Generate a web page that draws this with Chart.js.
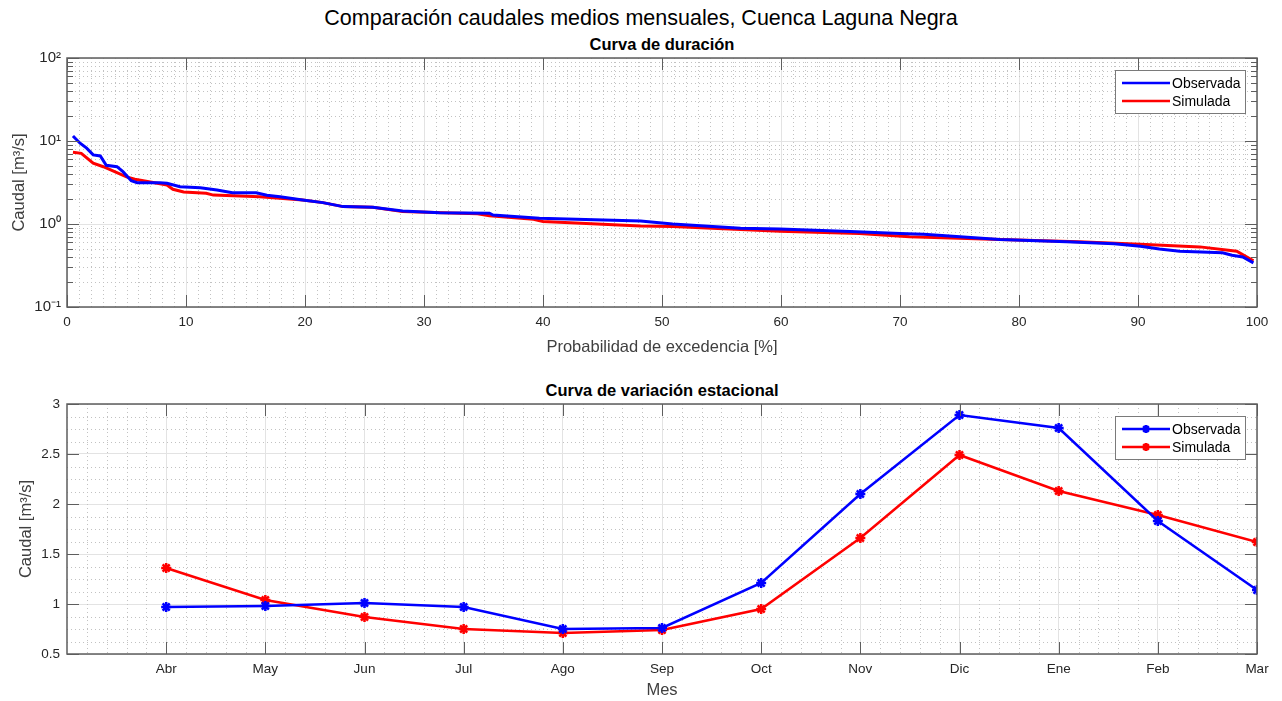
<!DOCTYPE html>
<html>
<head>
<meta charset="utf-8">
<script src="https://cdn.jsdelivr.net/npm/chart.js@4/dist/chart.umd.min.js"></script>
<style>
  body { margin: 0; background: #fff; width: 1282px; height: 701px; position: relative; overflow: hidden; font-family: 'Liberation Sans', Arial, sans-serif; }
  canvas { position: absolute; left: 0; }
  .ttl { position: absolute; white-space: nowrap; transform: translate(-50%, -50%); color: #000; }
  #main { left: 641px; top: 18px; font-size: 21.5px; }
  .sub { left: 662px; font-size: 16.5px; font-weight: bold; }
</style>
</head>
<body>
<div id="main" class="ttl">Comparación caudales medios mensuales, Cuenca Laguna Negra</div>
<div class="ttl sub" style="top:44px">Curva de duración</div>
<div class="ttl sub" style="top:390px">Curva de variación estacional</div>
<canvas id="chartDuracion" width="1282" height="370" style="top:0"></canvas>
<canvas id="chartEstacional" width="1282" height="331" style="top:370px"></canvas>
<script>
// curva de duracion (probabilidad de excedencia %, caudal m3/s)
const probObs = [0.5, 1.1, 1.65, 2.2, 2.8, 3.3, 4.2, 4.7, 5.4, 5.9, 7.8, 8.4, 9.5, 11.2, 12.6, 13.9, 15.9, 16.8, 17.9, 19.8, 21.5, 23.2, 25.7, 28.2, 31.3, 35.5, 35.8, 39.7, 48.2, 50.9, 56.6, 59.9, 65.8, 70, 72, 78.4, 84, 88, 90.2, 91.8, 93.5, 97.1, 97.9, 98.8, 99.7]
const qObs = [11.5, 9.4, 8.2, 6.8, 6.6, 5.1, 4.9, 4.27, 3.32, 3.15, 3.15, 3.1, 2.81, 2.74, 2.57, 2.38, 2.38, 2.22, 2.13, 1.95, 1.81, 1.62, 1.59, 1.43, 1.37, 1.35, 1.28, 1.17, 1.09, 1.0, 0.89, 0.87, 0.81, 0.77, 0.75, 0.65, 0.61, 0.58, 0.54, 0.50, 0.47, 0.45, 0.42, 0.40, 0.34]
const probSim = [0.5, 1.2, 2.2, 3.05, 5.0, 5.7, 8.4, 8.9, 9.8, 11.7, 12.3, 16.2, 19.8, 21.5, 23.2, 25.7, 28.2, 33, 34.5, 35.5, 39.2, 40, 48.2, 50.9, 56.6, 59.9, 66.6, 70.8, 78.4, 85, 90.2, 95.2, 98.3, 99.7]
const qSim = [7.3, 7.1, 5.4, 4.9, 3.7, 3.46, 2.95, 2.62, 2.43, 2.34, 2.23, 2.13, 1.95, 1.81, 1.62, 1.59, 1.41, 1.35, 1.33, 1.26, 1.14, 1.07, 0.945, 0.93, 0.86, 0.82, 0.77, 0.70, 0.65, 0.61, 0.57, 0.53, 0.47, 0.36]
const logTicks = [0.1, 1, 10, 100]
const logLabels = ['10⁻¹', '10⁰', '10¹', '10²']

// curva de variacion estacional
const meses = ['Abr', 'May', 'Jun', 'Jul', 'Ago', 'Sep', 'Oct', 'Nov', 'Dic', 'Ene', 'Feb', 'Mar']
const mesObs = [0.97, 0.98, 1.01, 0.97, 0.75, 0.76, 1.21, 2.10, 2.89, 2.76, 1.83, 1.14]
const mesSim = [1.36, 1.04, 0.87, 0.75, 0.71, 0.74, 0.95, 1.66, 2.49, 2.13, 1.89, 1.62]

Chart.defaults.font.family = "'Liberation Sans', Arial, sans-serif"
Chart.defaults.color = '#262626'
Chart.defaults.animation = false

const axisColor = '#5e5e5e'
const gridColor = '#e3e3e3'
const minorColor = '#c2c2c2'
const tickFont = { size: 13.5 }
const titleFont = { size: 16.5 }

const range = (a, b, step) => {
  const out = []
  const n = Math.round((b - a) / step)
  for (let i = 0; i <= n; i++) out.push(+(a + i * step).toFixed(6))
  return out
}

// grid menor punteado, caja, marcas hacia adentro y leyenda estilo matlab
const matlabAxes = (o) => ({
  id: 'matlabAxes',
  beforeDatasetsDraw(chart) {
    const { ctx, chartArea: a, scales: { x, y } } = chart
    ctx.save()
    ctx.strokeStyle = minorColor
    ctx.lineWidth = 1
    ctx.setLineDash([1, 3])
    ctx.beginPath()
    o.xMinor.forEach(v => {
      const px = Math.round(x.getPixelForValue(v)) + 0.5
      ctx.moveTo(px, a.top); ctx.lineTo(px, a.bottom)
    })
    o.yMinor.forEach(v => {
      const py = Math.round(y.getPixelForValue(v)) + 0.5
      ctx.moveTo(a.left, py); ctx.lineTo(a.right, py)
    })
    ctx.stroke()
    ctx.restore()
  },
  afterDatasetsDraw(chart) {
    const { ctx, chartArea: a, scales: { x, y } } = chart
    ctx.save()
    ctx.strokeStyle = axisColor
    ctx.lineWidth = 1
    ctx.beginPath()
    const tick = (vals, len, horiz) => vals.forEach(v => {
      if (horiz) {
        const px = Math.round(x.getPixelForValue(v)) + 0.5
        ctx.moveTo(px, a.bottom); ctx.lineTo(px, a.bottom - len)
        ctx.moveTo(px, a.top); ctx.lineTo(px, a.top + len)
      } else {
        const py = Math.round(y.getPixelForValue(v)) + 0.5
        ctx.moveTo(a.left, py); ctx.lineTo(a.left + len, py)
        ctx.moveTo(a.right, py); ctx.lineTo(a.right - len, py)
      }
    })
    tick(o.xMajor, 12, true)
    tick(o.yMajor, 12, false)
    if (o.yMinorTicks) tick(o.yMinor, 6, false)
    ctx.stroke()
    ctx.lineWidth = 1.5
    ctx.strokeRect(a.left, a.top, a.right - a.left, a.bottom - a.top)
    ctx.restore()

    // leyenda
    const bx = a.right - 142, by = a.top + 12, bw = 130, bh = 43
    ctx.save()
    ctx.fillStyle = '#fff'
    ctx.fillRect(bx, by, bw, bh)
    ctx.strokeStyle = '#7a7a7a'
    ctx.lineWidth = 1
    ctx.strokeRect(bx + 0.5, by + 0.5, bw, bh)
    ctx.font = "14px 'Liberation Sans', Arial, sans-serif"
    ctx.textBaseline = 'middle'
    chart.data.datasets.forEach((ds, i) => {
      const ly = by + 13 + i * 18
      ctx.strokeStyle = ds.borderColor
      ctx.lineWidth = 2.5
      ctx.beginPath()
      ctx.moveTo(bx + 7, ly); ctx.lineTo(bx + 55, ly)
      if (o.marker) {
        const cx = bx + 31, r = 4
        ctx.moveTo(cx - r, ly); ctx.lineTo(cx + r, ly)
        ctx.moveTo(cx, ly - r); ctx.lineTo(cx, ly + r)
        ctx.moveTo(cx - r * 0.7, ly - r * 0.7); ctx.lineTo(cx + r * 0.7, ly + r * 0.7)
        ctx.moveTo(cx - r * 0.7, ly + r * 0.7); ctx.lineTo(cx + r * 0.7, ly - r * 0.7)
      }
      ctx.stroke()
      ctx.fillStyle = '#000'
      ctx.fillText(ds.label, bx + 57, ly + 1)
    })
    ctx.restore()
  }
})

const toPoints = (xs, ys) => xs.map((v, i) => ({ x: v, y: ys[i] }))

// --- curva de duracion
const durMinorY = []
;[0.1, 1, 10].forEach(d => { for (let k = 2; k <= 9; k++) durMinorY.push(+(d * k).toFixed(4)) })

new Chart(document.getElementById('chartDuracion'), {
  type: 'scatter',
  data: {
    datasets: [
      { label: 'Observada', data: toPoints(probObs, qObs), borderColor: '#0000ff', backgroundColor: '#0000ff', showLine: true, borderWidth: 3, pointRadius: 0, tension: 0 },
      { label: 'Simulada', data: toPoints(probSim, qSim), borderColor: '#ff0000', backgroundColor: '#ff0000', showLine: true, borderWidth: 3, pointRadius: 0, tension: 0 },
    ],
  },
  options: {
    responsive: false,
    layout: { padding: { top: 58, right: 25, left: 0, bottom: 0 } },
    plugins: { legend: { display: false }, tooltip: { enabled: false } },
    scales: {
      x: {
        type: 'linear', min: 0, max: 100,
        afterBuildTicks: (s) => { s.ticks = range(0, 100, 10).map(v => ({ value: v })) },
        afterFit: (s) => { s.height = 63 },
        ticks: { font: tickFont, padding: 7, maxRotation: 0 },
        grid: { color: gridColor, drawTicks: false },
        border: { display: false },
        title: { display: true, text: 'Probabilidad de excedencia [%]', font: titleFont, color: '#404040', padding: { top: 0, bottom: 13 } },
      },
      y: {
        type: 'logarithmic', min: 0.1, max: 100,
        afterBuildTicks: (s) => { s.ticks = logTicks.map(v => ({ value: v })) },
        afterFit: (s) => { s.width = 67 },
        ticks: { font: { size: 15 }, padding: 6, callback: (v) => logLabels[logTicks.indexOf(v)] },
        grid: { color: gridColor, drawTicks: false },
        border: { display: false },
        title: { display: true, text: 'Caudal [m³/s]', font: titleFont, color: '#404040', padding: { top: 10, bottom: 0 } },
      },
    },
  },
  plugins: [matlabAxes({ xMinor: range(0, 100, 1).filter(v => v % 10 !== 0), yMinor: durMinorY, xMajor: range(0, 100, 10), yMajor: logTicks, yMinorTicks: true })],
})

// --- curva de variacion estacional
const mesX = meses.map((m, i) => i + 1)

new Chart(document.getElementById('chartEstacional'), {
  type: 'scatter',
  data: {
    datasets: [
      { label: 'Observada', data: toPoints(mesX, mesObs), borderColor: '#0000ff', backgroundColor: '#0000ff', showLine: true, borderWidth: 2.5, pointStyle: 'star', pointRadius: 5, pointBorderWidth: 2.5, tension: 0 },
      { label: 'Simulada', data: toPoints(mesX, mesSim), borderColor: '#ff0000', backgroundColor: '#ff0000', showLine: true, borderWidth: 2.5, pointStyle: 'star', pointRadius: 5, pointBorderWidth: 2.5, tension: 0 },
    ],
  },
  options: {
    responsive: false,
    layout: { padding: { top: 34, right: 25, left: 0, bottom: 0 } },
    plugins: { legend: { display: false }, tooltip: { enabled: false } },
    scales: {
      x: {
        type: 'linear', min: 0, max: 12,
        afterBuildTicks: (s) => { s.ticks = mesX.map(v => ({ value: v })) },
        afterFit: (s) => { s.height = 47 },
        ticks: { font: tickFont, padding: 7, maxRotation: 0, autoSkip: false, callback: (v) => meses[v - 1] },
        grid: { color: gridColor, drawTicks: false },
        border: { display: false },
        title: { display: true, text: 'Mes', font: titleFont, color: '#404040', padding: { top: 0, bottom: 1 } },
      },
      y: {
        type: 'linear', min: 0.5, max: 3,
        afterBuildTicks: (s) => { s.ticks = range(0.5, 3, 0.5).map(v => ({ value: v })) },
        afterFit: (s) => { s.width = 67 },
        ticks: { font: tickFont, padding: 7, callback: (v) => String(v) },
        grid: { color: gridColor, drawTicks: false },
        border: { display: false },
        title: { display: true, text: 'Caudal [m³/s]', font: titleFont, color: '#404040', padding: { top: 17, bottom: 0 } },
      },
    },
  },
  plugins: [matlabAxes({ xMinor: range(0, 12, 0.2).filter(v => Math.abs(v - Math.round(v)) > 1e-6), yMinor: range(0.5, 3, 0.125).filter(v => Math.abs(v * 2 - Math.round(v * 2)) > 1e-6), xMajor: mesX, yMajor: range(0.5, 3, 0.5), marker: true })],
})
</script>
</body>
</html>
